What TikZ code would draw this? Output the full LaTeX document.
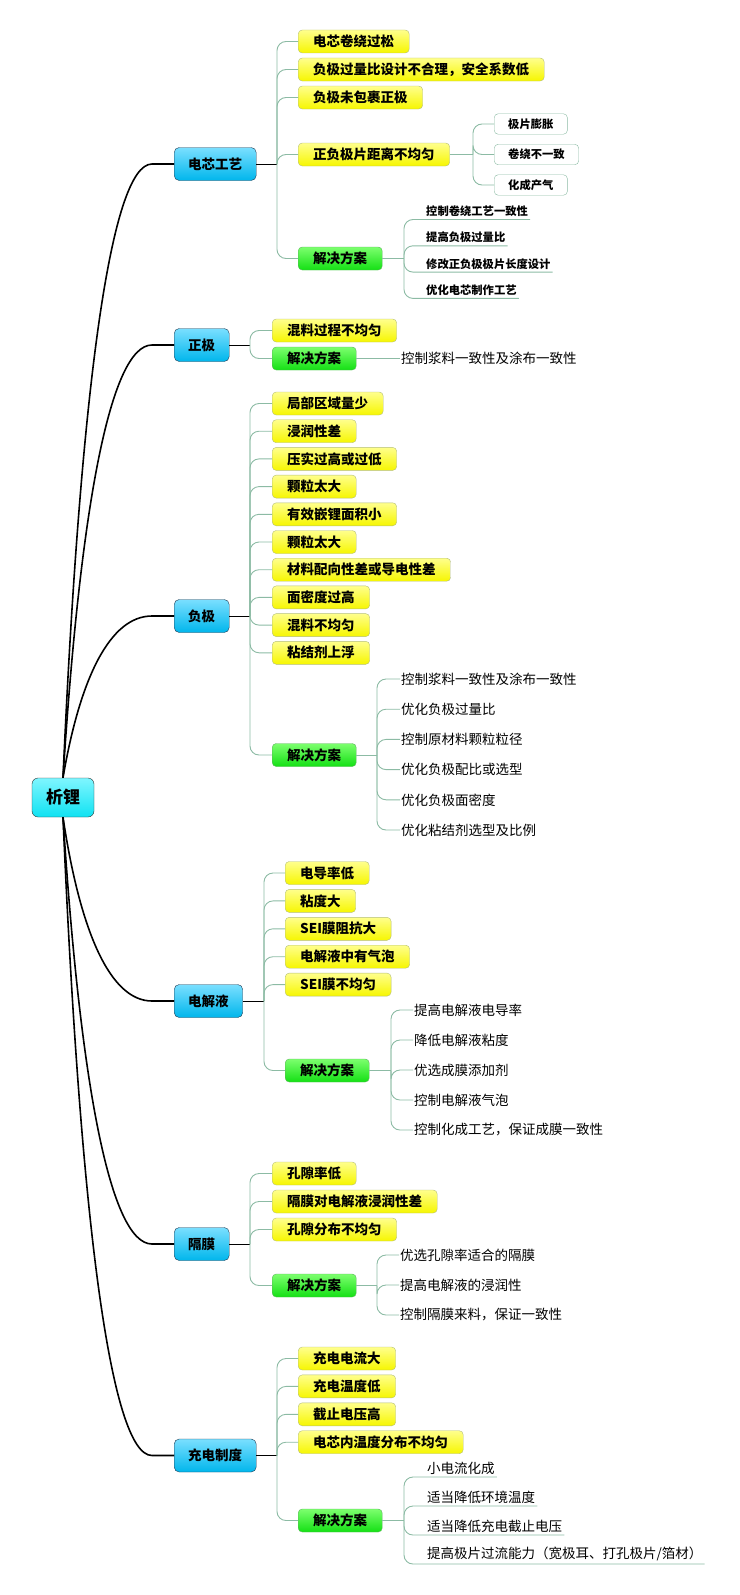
\documentclass[tikz,border=0pt]{standalone}
\usepackage{fontspec}
\setmainfont{Noto Sans CJK SC}
\usetikzlibrary{positioning}
\usetikzlibrary{calc}

\definecolor{linkgreen}{HTML}{8CBBA4}
\definecolor{rootlight}{HTML}{7FF6FF}
\definecolor{rootdark}{HTML}{10E2F2}
\definecolor{bluelight}{HTML}{7ADFFF}
\definecolor{bluedark}{HTML}{00B6EC}
\definecolor{blueborder}{HTML}{1F3A52}
\definecolor{ylight}{HTML}{FFFF8C}
\definecolor{ydark}{HTML}{F6F600}
\definecolor{yborder}{HTML}{B4BE78}
\definecolor{glight}{HTML}{7CFF6E}
\definecolor{gdark}{HTML}{14E014}
\definecolor{gborder}{HTML}{5CB45C}

\tikzset{
  rootbox/.style={draw=black!80, rounded corners=6pt, top color=rootlight, bottom color=rootdark,
    minimum height=39pt, inner xsep=14pt, font=\fontsize{17}{19}\selectfont\bfseries},
  mainbox/.style={draw=blueborder, rounded corners=5pt, top color=bluelight, bottom color=bluedark,
    minimum height=33pt, inner xsep=14pt, anchor=west, font=\fontsize{13.5}{16}\selectfont\bfseries},
  ybox/.style={draw=yborder, rounded corners=4pt, top color=ylight, bottom color=ydark,
    minimum height=23pt, inner xsep=15pt, anchor=west, font=\fontsize{13.5}{16}\selectfont\bfseries},
  gbox/.style={draw=gborder, rounded corners=4pt, top color=glight, bottom color=gdark,
    minimum height=23pt, inner xsep=15pt, anchor=west, font=\fontsize{13.5}{16}\selectfont\bfseries},
  wbox/.style={draw=linkgreen, rounded corners=4pt, fill=white,
    minimum height=20.5pt, inner xsep=14pt, anchor=west, font=\fontsize{11.3}{13}\selectfont\bfseries},
  stext/.style={inner xsep=1pt, anchor=west, text=black, font=\fontsize{13.5}{16}\selectfont},
  utext/.style={inner xsep=2pt, inner ysep=2.5pt, anchor=south west, text=black},
  conn/.style={draw=linkgreen, line width=0.9pt, rounded corners=9pt},
  stub/.style={draw=black, line width=1pt},
  rootline/.style={draw=black, line width=1.6pt},
}

\begin{document}
\begin{tikzpicture}[x=1pt,y=-1pt]
  \useasboundingbox (0,0) rectangle (739,1595);

  % root and main branches
  \node[rootbox] (xili) at (63,797.5) {析锂};
  \node[mainbox] (dx) at (174,164) {电芯工艺};
  \node[mainbox] (zj) at (174,345) {正极};
  \node[mainbox] (fj) at (174,616) {负极};
  \node[mainbox] (dj) at (174,1001) {电解液};
  \node[mainbox] (gm) at (174,1244) {隔膜};
  \node[mainbox] (cd) at (174,1455.5) {充电制度};

  \foreach \b/\c in {dx/397, zj/510, fj/678}
    \draw[rootline] (xili.north) .. controls (80,\c) and ([xshift=-64pt]\b.west)
      .. ([xshift=-22pt]\b.west) -- (\b.west);
  \foreach \b/\c in {dj/931, gm/1082, cd/1213}
    \draw[rootline] (xili.south) .. controls (80,\c) and ([xshift=-64pt]\b.west)
      .. ([xshift=-22pt]\b.west) -- (\b.west);

  % spines
  \coordinate (dxs) at (277,164);
  \coordinate (zjs) at (250,345);
  \coordinate (fjs) at (250,616);
  \coordinate (djs) at (264,1001);
  \coordinate (gms) at (250,1244);
  \coordinate (cds) at (277,1455.5);
  \foreach \b in {dx,zj,fj,dj,gm,cd}
    \draw[stub] (\b.east) -- (\b s);

  % 电芯工艺
  \node[ybox] (dx1) at (298,41.5) {电芯卷绕过松};
  \node[ybox] (dx2) at (298,69.5) {负极过量比设计不合理，安全系数低};
  \node[ybox] (dx3) at (298,97.5) {负极未包裹正极};
  \node[ybox] (dx4) at (298,154.5) {正负极片距离不均匀};
  \node[gbox] (dx5) at (298,258.5) {解决方案};
  \foreach \i in {1,...,5}
    \draw[conn] (dxs) |- (dx\i.west);

  \coordinate (dx4s) at (473,154.5);
  \draw[conn] (dx4.east) -- (dx4s);
  \foreach \t [count=\i] in {极片膨胀, 卷绕不一致, 化成产气} {
    \node[wbox] (dx4\i) at (494,{124+30.5*(\i-1)}) {\t};
    \draw[conn] (dx4s) |- (dx4\i.west);
  }

  \coordinate (dx5s) at (404,258.5);
  \draw[conn] (dx5.east) -- (dx5s);
  \foreach \t [count=\i] in {控制卷绕工艺一致性, 提高负极过量比, 修改正负极极片长度设计, 优化电芯制作工艺} {
    \node[utext, font=\fontsize{11.3}{13}\selectfont\bfseries] (dx5\i) at (424,{219.5+26.3*(\i-1)}) {\t};
    \draw[conn] (dx5s) |- (dx5\i.south west) -- (dx5\i.south east);
  }

  % 正极
  \node[ybox] (zj1) at (272,330.5) {混料过程不均匀};
  \node[gbox] (zj2) at (272,358.5) {解决方案};
  \foreach \i in {1,2}
    \draw[conn] (zjs) |- (zj\i.west);
  \node[stext] (zj21) at (400,358.5) {控制浆料一致性及涂布一致性};
  \draw[conn] (zj2.east) -- (zj21.west);

  % 负极
  \foreach \t [count=\i] in {局部区域量少, 浸润性差, 压实过高或过低, 颗粒太大, 有效嵌锂面积小,
      颗粒太大, 材料配向性差或导电性差, 面密度过高, 混料不均匀, 粘结剂上浮} {
    \node[ybox] (fj\i) at (272,{403.5+27.7*(\i-1)}) {\t};
    \draw[conn] (fjs) |- (fj\i.west);
  }
  \node[gbox] (fj11) at (272,755) {解决方案};
  \draw[conn] (fjs) |- (fj11.west);
  \coordinate (fj11s) at (377,755);
  \draw[conn] (fj11.east) -- (fj11s);
  \foreach \t [count=\i] in {控制浆料一致性及涂布一致性, 优化负极过量比, 控制原材料颗粒粒径,
      优化负极配比或选型, 优化负极面密度, 优化粘结剂选型及比例} {
    \node[stext] (fjt\i) at (400,{679+30.2*(\i-1)}) {\t};
    \draw[conn] (fj11s) |- (fjt\i.west);
  }

  % 电解液
  \foreach \t [count=\i] in {电导率低, 粘度大, SEI膜阻抗大, 电解液中有气泡, SEI膜不均匀} {
    \node[ybox] (dj\i) at (285,{873+27.9*(\i-1)}) {\t};
    \draw[conn] (djs) |- (dj\i.west);
  }
  \node[gbox] (dj6) at (285,1070.5) {解决方案};
  \draw[conn] (djs) |- (dj6.west);
  \coordinate (dj6s) at (391,1070.5);
  \draw[conn] (dj6.east) -- (dj6s);
  \foreach \t [count=\i] in {提高电解液电导率, 降低电解液粘度, 优选成膜添加剂, 控制电解液气泡,
      控制化成工艺，保证成膜一致性} {
    \node[stext] (djt\i) at (413,{1010+30*(\i-1)}) {\t};
    \draw[conn] (dj6s) |- (djt\i.west);
  }

  % 隔膜
  \foreach \t [count=\i] in {孔隙率低, 隔膜对电解液浸润性差, 孔隙分布不均匀} {
    \node[ybox] (gm\i) at (272,{1173.5+28*(\i-1)}) {\t};
    \draw[conn] (gms) |- (gm\i.west);
  }
  \node[gbox] (gm4) at (272,1285.5) {解决方案};
  \draw[conn] (gms) |- (gm4.west);
  \coordinate (gm4s) at (377,1285.5);
  \draw[conn] (gm4.east) -- (gm4s);
  \foreach \t [count=\i] in {优选孔隙率适合的隔膜, 提高电解液的浸润性, 控制隔膜来料，保证一致性} {
    \node[stext] (gmt\i) at (399,{1255+30*(\i-1)}) {\t};
    \draw[conn] (gm4s) |- (gmt\i.west);
  }

  % 充电制度
  \foreach \t [count=\i] in {充电电流大, 充电温度低, 截止电压高, 电芯内温度分布不均匀} {
    \node[ybox] (cd\i) at (298,{1358.5+27.9*(\i-1)}) {\t};
    \draw[conn] (cds) |- (cd\i.west);
  }
  \node[gbox] (cd5) at (298,1520.5) {解决方案};
  \draw[conn] (cds) |- (cd5.west);
  \coordinate (cd5s) at (404,1520.5);
  \draw[conn] (cd5.east) -- (cd5s);
  \foreach \t [count=\i] in {小电流化成, 适当降低环境温度, 适当降低充电截止电压,
      提高极片过流能力（宽极耳、打孔极片/箔材）} {
    \node[utext, font=\fontsize{13.5}{16}\selectfont] (cd5\i) at (425,{1477+29*(\i-1)}) {\t};
    \draw[conn] (cd5s) |- (cd5\i.south west) -- (cd5\i.south east);
  }
\end{tikzpicture}
\end{document}
